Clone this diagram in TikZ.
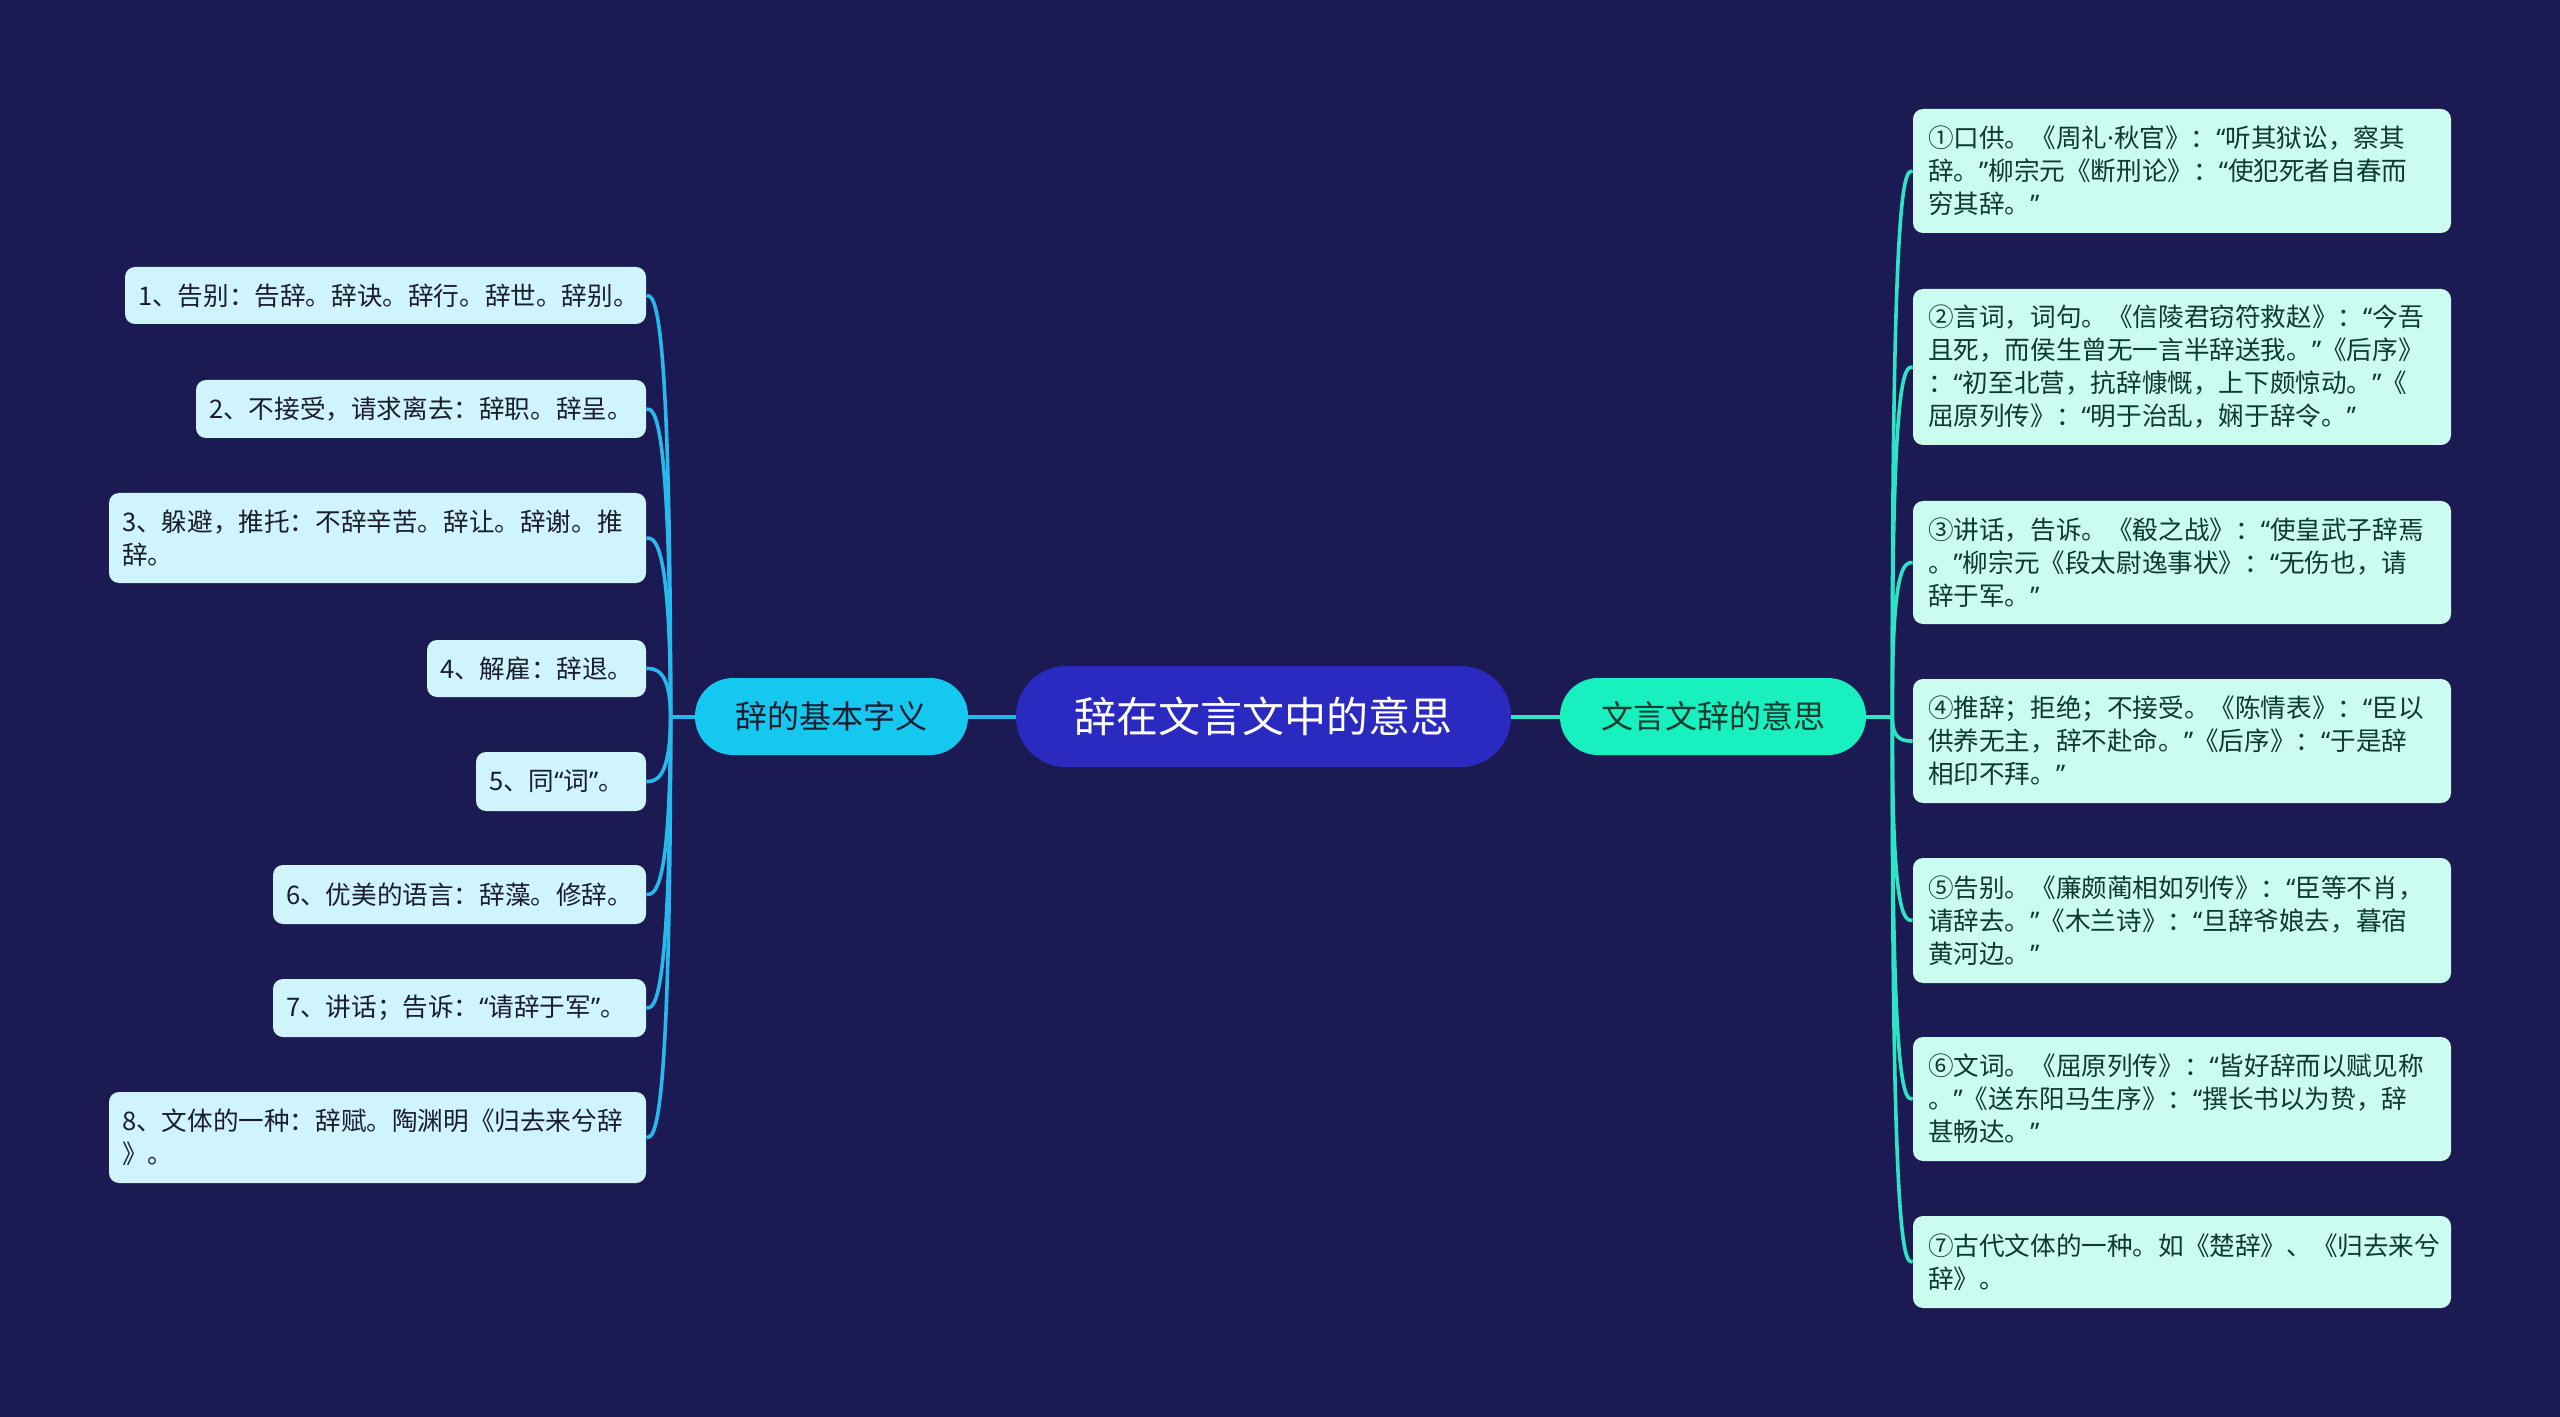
\documentclass[tikz,border=0pt]{standalone}
\usepackage{fontspec}
\setmainfont{Noto Sans CJK SC}
\newfontfamily\qfont{Noto Sans}
\newcommand{\myqo}{{\qfont “}}
\newcommand{\myqc}{{\qfont ”}}
\newcommand{\mydot}{{\qfont ·}}
\usetikzlibrary{calc}
\definecolor{bg}{HTML}{1B1A52}
\definecolor{centerfill}{HTML}{2A2AC0}
\definecolor{subLfill}{HTML}{14C8F0}
\definecolor{subRfill}{HTML}{18F0C0}
\definecolor{leafLfill}{HTML}{D0F4FC}
\definecolor{leafRfill}{HTML}{CCFBEF}
\definecolor{leafLtext}{HTML}{1A1D2E}
\definecolor{leafRtext}{HTML}{0E3A2E}
\definecolor{connLcol}{HTML}{28B8EC}
\definecolor{connRcol}{HTML}{2DE5C5}
\tikzset{
  rootbox/.style={fill=centerfill, text=white, rounded corners=25pt, minimum width=247.5pt, minimum height=50.5pt, font=\fontsize{21}{25}\selectfont, inner sep=0pt},
  subbox/.style={rounded corners=19pt, minimum height=38.5pt, font=\fontsize{16}{19}\selectfont, inner sep=0pt},
  leafLbox/.style={fill=leafLfill, text=leafLtext, rounded corners=5pt, align=left, inner xsep=6.5pt, inner ysep=0pt, font=\fontsize{12.8}{16.5}\selectfont},
  leafRbox/.style={fill=leafRfill, text=leafRtext, rounded corners=5pt, align=left, inner xsep=7.5pt, inner ysep=0pt, text width=254pt, font=\fontsize{12.8}{16.5}\selectfont},
  connL/.style={draw=connLcol, line width=1.8pt},
  connR/.style={draw=connRcol, line width=1.8pt},
  trunkL/.style={draw=connLcol, line width=2pt},
  trunkR/.style={draw=connRcol, line width=2pt},
}
\begin{document}
\begin{tikzpicture}[x=0.5pt,y=-0.5pt]
\useasboundingbox[fill=bg] (0,0) rectangle (2560,1417);

% root and main branches
\node[rootbox] (root) at (1263.5,716.5) {辞在文言文中的意思};
\node[subbox, fill=subLfill, text=leafLtext, minimum width=136.5pt] (subL) at (831.5,716.5) {辞的基本字义};
\node[subbox, fill=subRfill, text=leafRtext, minimum width=153pt] (subR) at (1713,716.5) {文言文辞的意思};

% left leaves
\node[leafLbox, text width=247.5pt, minimum height=28.5pt] (L1) at (385.5,295.5) {1、告别：告辞。辞诀。辞行。辞世。辞别。};
\node[leafLbox, text width=212pt, minimum height=29pt] (L2) at (421,409) {2、不接受，请求离去：辞职。辞呈。};
\node[leafLbox, text width=255.5pt, minimum height=45pt] (L3) at (377.5,538) {3、躲避，推托：不辞辛苦。辞让。辞谢。推\\辞。};
\node[leafLbox, text width=96.5pt, minimum height=28.5pt] (L4) at (536.5,668.5) {4、解雇：辞退。};
\node[leafLbox, text width=72pt, minimum height=29.5pt] (L5) at (561,781.5) {5、同\myqo 词\myqc 。};
\node[leafLbox, text width=173.5pt, minimum height=29.5pt] (L6) at (459.5,894.5) {6、优美的语言：辞藻。修辞。};
\node[leafLbox, text width=173.5pt, minimum height=29pt] (L7) at (459.5,1008) {7、讲话；告诉：\myqo 请辞于军\myqc 。};
\node[leafLbox, text width=255.5pt, minimum height=45.5pt] (L8) at (377.5,1137.5) {8、文体的一种：辞赋。陶渊明《归去来兮辞\\》。};

% right leaves
\node[leafRbox, minimum height=62pt] (R1) at (2182,171) {①口供。《周礼\mydot 秋官》：\myqo 听其狱讼，察其\\辞。\myqc 柳宗元《断刑论》：\myqo 使犯死者自春而\\穷其辞。\myqc};
\node[leafRbox, minimum height=78pt] (R2) at (2182,367) {②言词，词句。《信陵君窃符救赵》：\myqo 今吾\\且死，而侯生曾无一言半辞送我。\myqc《后序》\\：\myqo 初至北营，抗辞慷慨，上下颇惊动。\myqc《\\屈原列传》：\myqo 明于治乱，娴于辞令。\myqc};
\node[leafRbox, minimum height=61.5pt] (R3) at (2182,562.5) {③讲话，告诉。《殽之战》：\myqo 使皇武子辞焉\\。\myqc 柳宗元《段太尉逸事状》：\myqo 无伤也，请\\辞于军。\myqc};
\node[leafRbox, minimum height=62pt] (R4) at (2182,741) {④推辞；拒绝；不接受。《陈情表》：\myqo 臣以\\供养无主，辞不赴命。\myqc《后序》：\myqo 于是辞\\相印不拜。\myqc};
\node[leafRbox, minimum height=62.5pt] (R5) at (2182,920.5) {⑤告别。《廉颇蔺相如列传》：\myqo 臣等不肖，\\请辞去。\myqc《木兰诗》：\myqo 旦辞爷娘去，暮宿\\黄河边。\myqc};
\node[leafRbox, minimum height=62pt] (R6) at (2182,1099) {⑥文词。《屈原列传》：\myqo 皆好辞而以赋见称\\。\myqc《送东阳马生序》：\myqo 撰长书以为贽，辞\\甚畅达。\myqc};
\node[leafRbox, minimum height=46pt] (R7) at (2182,1262) {⑦古代文体的一种。如《楚辞》、《归去来兮\\辞》。};

% root to branches
\draw[trunkL] (root.west) -- (subL.east);
\draw[trunkR] (root.east) -- (subR.west);

% left connectors
\coordinate (tL) at ($(subL.west)+(-24,0)$);
\draw[trunkL] (subL.west) -- (tL);
\foreach \n in {L1,L2,L3,L4,L5,L6,L7,L8}
  \draw[connL] (tL) .. controls ($(\n.east)+(24,0)$) and ($(\n.east)+(8,0)$) .. (\n.east);

% right connectors
\coordinate (tR) at ($(subR.east)+(26,0)$);
\draw[trunkR] (subR.east) -- (tR);
\foreach \n in {R1,R2,R3,R4,R5,R6,R7}
  \draw[connR] (tR) .. controls ($(\n.west)+(-21,0)$) and ($(\n.west)+(-8,0)$) .. (\n.west);
\end{tikzpicture}
\end{document}
